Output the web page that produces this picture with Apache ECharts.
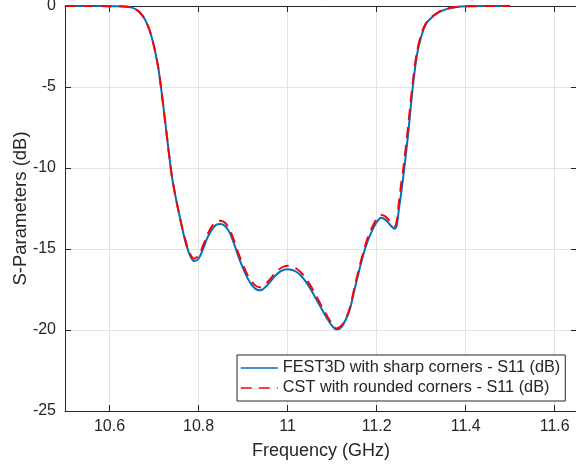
<!DOCTYPE html>
<html>
<head>
<meta charset="utf-8">
<script src="https://cdn.jsdelivr.net/npm/echarts@6/dist/echarts.min.js"></script>
<style>
  html, body { margin: 0; padding: 0; background: #fff; }
  #chart { width: 576px; height: 468px; }
</style>
</head>
<body>
<div id="chart"></div>
<script>
// frequency samples (GHz), shared by both traces
const freqGHz = [
  10.50, 10.55, 10.60, 10.62, 10.64, 10.65, 10.66, 10.67, 10.68, 10.69,
  10.70, 10.71, 10.72, 10.73, 10.74, 10.75, 10.76, 10.77, 10.78, 10.79,
  10.80, 10.81, 10.82, 10.83, 10.84, 10.85, 10.86, 10.87, 10.88, 10.89,
  10.90, 10.91, 10.92, 10.93, 10.94, 10.95, 10.96, 10.97, 10.98, 10.99,
  11.00, 11.01, 11.02, 11.03, 11.04, 11.05, 11.06, 11.07, 11.08, 11.09,
  11.10, 11.11, 11.12, 11.13, 11.14, 11.15, 11.16, 11.17, 11.18, 11.19,
  11.20, 11.21, 11.22, 11.23, 11.24, 11.245, 11.25, 11.255, 11.26, 11.27,
  11.28, 11.29, 11.30, 11.31, 11.32, 11.34, 11.36, 11.38, 11.40, 11.45,
  11.50
];

// FEST3D, sharp corners - S11 (dB)
const fest3dS11 = [
  0, 0, -0.01, -0.02, -0.05, -0.1, -0.22, -0.45, -0.85, -1.5,
  -2.5, -3.9, -6.0, -8.3, -10.5, -12.0, -13.3, -14.5, -15.35, -15.75,
  -15.6, -15.0, -14.3, -13.8, -13.5, -13.45, -13.6, -14.0, -14.7, -15.5,
  -16.2, -16.8, -17.25, -17.5, -17.55, -17.35, -17.05, -16.72, -16.46, -16.3,
  -16.25, -16.3, -16.42, -16.65, -16.98, -17.4, -17.88, -18.38, -18.88, -19.35,
  -19.75, -19.97, -19.85, -19.4, -18.7, -17.55, -16.4, -15.35, -14.5, -13.85,
  -13.35, -13.07, -13.2, -13.5, -13.75, -13.55, -12.55, -11.55, -10.5, -8.1,
  -5.3, -3.1, -1.9, -1.15, -0.8, -0.38, -0.16, -0.06, -0.02, 0,
  0
];

// CST, rounded corners - S11 (dB)
const cstS11 = [
  0, 0, -0.01, -0.02, -0.05, -0.1, -0.22, -0.45, -0.85, -1.5,
  -2.5, -3.9, -6.0, -8.3, -10.5, -12.0, -13.3, -14.4, -15.25, -15.6,
  -15.4, -14.8, -14.1, -13.6, -13.3, -13.25, -13.4, -13.8, -14.5, -15.3,
  -16.0, -16.6, -17.05, -17.3, -17.37, -17.18, -16.88, -16.55, -16.28, -16.1,
  -16.04, -16.1, -16.22, -16.45, -16.78, -17.2, -17.68, -18.2, -18.7, -19.2,
  -19.62, -19.9, -19.75, -19.35, -18.6, -17.4, -16.25, -15.2, -14.3, -13.65,
  -13.15, -12.9, -13.0, -13.3, -13.6, -13.3, -12.1, -11.0, -10.0, -7.6,
  -5.0, -2.9, -1.75, -1.1, -0.75, -0.36, -0.15, -0.06, -0.02, 0,
  0
];

const xTicks = [10.6, 10.8, 11.0, 11.2, 11.4, 11.6];
const legendNames = [
  "FEST3D with sharp corners - S11 (dB)",
  "CST with rounded corners - S11 (dB)",
];

const FONT = "'Liberation Sans', Arial, Helvetica, sans-serif";
const AXIS_COLOR = "#262626";
const GRID_COLOR = "#e3e3e3";

const pair = (xs, ys) => xs.map((x, i) => [x, ys[i]]);

const xAxisBase = {
  type: "value",
  min: 10.5,
  max: 11.65,
  axisLine: { show: true, onZero: false, lineStyle: { color: AXIS_COLOR, width: 1 } },
  axisTick: { show: true, inside: true, length: 6, customValues: xTicks, lineStyle: { color: AXIS_COLOR } },
};

const chart = echarts.init(document.getElementById("chart"), null, { renderer: "canvas" });

chart.setOption({
  animation: false,
  backgroundColor: "#ffffff",
  textStyle: { fontFamily: FONT },
  grid: { left: 65, top: 6, width: 512, height: 405, containLabel: false, outerBoundsMode: "none" },
  xAxis: [
    {
      ...xAxisBase,
      position: "bottom",
      name: "Frequency (GHz)",
      nameLocation: "middle",
      nameGap: 31,
      nameMoveOverlap: false,
      nameTextStyle: { color: AXIS_COLOR, fontSize: 18, fontFamily: FONT },
      axisLabel: {
        customValues: xTicks,
        margin: 8,
        color: AXIS_COLOR,
        fontSize: 16,
        fontFamily: FONT,
        formatter: (v) => String(Math.round(v * 10) / 10),
      },
      splitLine: { show: true, lineStyle: { color: GRID_COLOR, width: 1 } },
    },
    {
      ...xAxisBase,
      position: "top",
      axisLabel: { show: false },
      splitLine: { show: false },
    },
  ],
  yAxis: [
    {
      type: "value",
      position: "left",
      min: -25,
      max: 0,
      interval: 5,
      name: "S-Parameters (dB)",
      nameLocation: "middle",
      nameGap: 35,
      nameMoveOverlap: false,
      nameTextStyle: { color: AXIS_COLOR, fontSize: 18.5, fontFamily: FONT },
      axisLine: { show: true, onZero: false, lineStyle: { color: AXIS_COLOR, width: 1 } },
      axisTick: { show: true, inside: true, length: 6, lineStyle: { color: AXIS_COLOR } },
      axisLabel: { margin: 9, color: AXIS_COLOR, fontSize: 16, fontFamily: FONT },
      splitLine: { show: true, lineStyle: { color: GRID_COLOR, width: 1 } },
    },
    {
      type: "value",
      position: "right",
      min: -25,
      max: 0,
      interval: 5,
      axisLine: { show: true, onZero: false, lineStyle: { color: AXIS_COLOR, width: 1 } },
      axisTick: { show: true, inside: true, length: 6, lineStyle: { color: AXIS_COLOR } },
      axisLabel: { show: false },
      splitLine: { show: false },
    },
  ],
  legend: {
    orient: "vertical",
    left: 237,
    top: 355,
    padding: [5, 5, 5, 3],
    itemGap: 4,
    itemWidth: 37,
    itemHeight: 16,
    backgroundColor: "#ffffff",
    borderColor: AXIS_COLOR,
    borderWidth: 1,
    borderRadius: 0,
    itemStyle: { opacity: 0 },
    lineStyle: { width: 1.6 },
    textStyle: { color: AXIS_COLOR, fontSize: 16.3, fontFamily: FONT, lineHeight: 16 },
    data: legendNames,
  },
  series: [
    {
      name: legendNames[0],
      type: "line",
      data: pair(freqGHz, fest3dS11),
      showSymbol: false,
      symbol: "none",
      smooth: 0.3,
      clip: true,
      lineStyle: { color: "#0072BD", width: 2 },
      itemStyle: { color: "#0072BD" },
      z: 3,
    },
    {
      name: legendNames[1],
      type: "line",
      data: pair(freqGHz, cstS11),
      showSymbol: false,
      symbol: "none",
      smooth: 0.3,
      clip: true,
      lineStyle: { color: "#FF0000", width: 2, type: [11, 7] },
      itemStyle: { color: "#FF0000" },
      z: 4,
    },
  ],
});
</script>
</body>
</html>
